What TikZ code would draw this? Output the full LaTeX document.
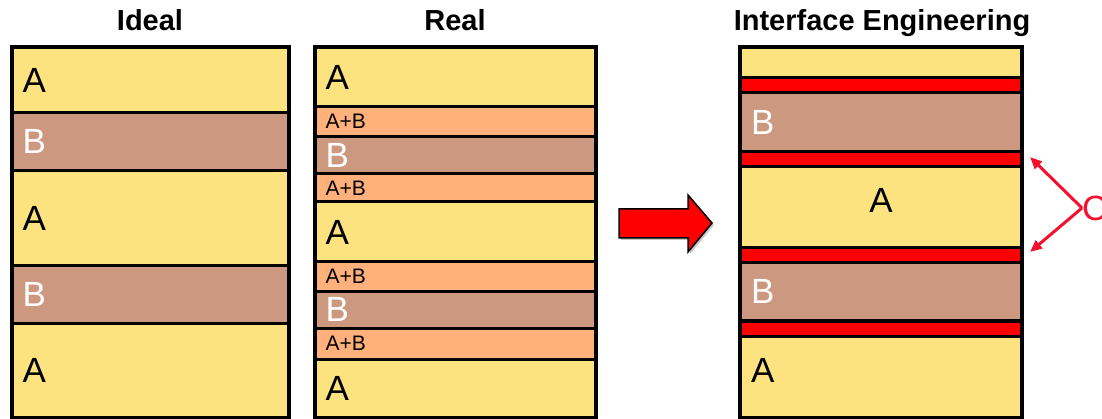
\documentclass[tikz,border=0pt]{standalone}
\usepackage{fontspec}
\setmainfont{Liberation Sans}
\usepackage{tikz}
\usetikzlibrary{positioning,arrows.meta}
\definecolor{layA}{HTML}{FDE380}
\definecolor{layB}{HTML}{CC9980}
\definecolor{layAB}{HTML}{FFB07B}
\definecolor{layC}{HTML}{FF0000}
\definecolor{pointer}{HTML}{F5102E}

\begin{document}
\begin{tikzpicture}[x=1pt,y=-1pt,
  layer/.style={draw=black,line width=3pt,anchor=north west,outer sep=0pt,inner xsep=11pt,inner ysep=0pt,align=left,font=\fontsize{35}{40}\selectfont},
  ideal/.style={layer,minimum width=277pt,text width=255pt},
  real/.style={layer,minimum width=281pt,text width=259pt},
  eng/.style={layer,minimum width=282pt,text width=260pt},
  aLay/.style={fill=layA},
  bLay/.style={fill=layB,text=white},
  abLay/.style={fill=layAB,font=\fontsize{21}{24}\selectfont},
  cLay/.style={fill=layC},
  frame/.style={draw=black,line width=4pt},
  title/.style={anchor=base,font=\bfseries\fontsize{29}{34}\selectfont}]
\useasboundingbox (0,0) rectangle (1102,419);

\node[title] (tideal) at (150,31) {Ideal};
\node[title] (treal) at (455,31) {Real};
\node[title] (teng) at (882,31) {Interface Engineering};

% ideal stack
\node[ideal,aLay,minimum height=65.5pt] (i1) at (11.5,47.5) {A};
\node[ideal,bLay,minimum height=57.5pt,below=0pt of i1] (i2) {B};
\node[ideal,aLay,minimum height=95pt,below=0pt of i2] (i3) {A};
\node[ideal,bLay,minimum height=58pt,below=0pt of i3] (i4) {B};
\node[ideal,aLay,minimum height=94pt,below=0pt of i4] (i5) {A};
\path[frame] (i1.north west) rectangle (i5.south east);

% real stack, mixed layers in between
\node[real,aLay,minimum height=59pt] (r1) at (314.5,47.5) {A};
\node[real,abLay,minimum height=30pt,below=0pt of r1] (r2) {A+B};
\node[real,bLay,minimum height=37.5pt,below=0pt of r2] (r3) {B};
\node[real,abLay,minimum height=28pt,below=0pt of r3] (r4) {A+B};
\node[real,aLay,minimum height=60pt,below=0pt of r4] (r5) {A};
\node[real,abLay,minimum height=29.5pt,below=0pt of r5] (r6) {A+B};
\node[real,bLay,minimum height=36.5pt,below=0pt of r6] (r7) {B};
\node[real,abLay,minimum height=31pt,below=0pt of r7] (r8) {A+B};
\node[real,aLay,minimum height=58.5pt,below=0pt of r8] (r9) {A};
\path[frame] (r1.north west) rectangle (r9.south east);

% arrow between
\fill[gray!45] (621,211) -- (690,211) -- (690,197) -- (714,225) -- (690,254) -- (690,240) -- (621,240) -- cycle;
\draw[fill=layC,line width=1.5pt] (619,209) -- (688,209) -- (688,195) -- (712,223) -- (688,252) -- (688,238) -- (619,238) -- cycle;

% engineered stack with C interlayers
\node[eng,aLay,minimum height=30.5pt] (e1) at (740,47.5) {};
\node[eng,cLay,minimum height=14.5pt,below=0pt of e1] (e2) {};
\node[eng,bLay,minimum height=59pt,below=0pt of e2] (e3) {B};
\node[eng,cLay,minimum height=15pt,below=0pt of e3] (e4) {};
\node[eng,aLay,minimum height=81pt,align=center,text depth=14pt,below=0pt of e4] (e5) {A};
\node[eng,cLay,minimum height=15pt,below=0pt of e5] (e6) {};
\node[eng,bLay,minimum height=58.5pt,below=0pt of e6] (e7) {B};
\node[eng,cLay,minimum height=15.5pt,below=0pt of e7] (e8) {};
\node[eng,aLay,minimum height=81pt,text depth=14pt,below=0pt of e8] (e9) {A};
\path[frame] (e1.north west) rectangle (e9.south east);

% bracket pointing at the two interlayers
\coordinate (cv) at (1082,208);
\coordinate (ct) at (1030,157);
\coordinate (cb) at (1030,252);
\draw[pointer,line width=3pt,-{Triangle[length=12pt,width=10pt]}] (cv) -- (ct);
\draw[pointer,line width=3pt,-{Triangle[length=12pt,width=10pt]}] (cv) -- (cb);
\node[right=0pt of cv,inner sep=0pt,text=pointer,font=\fontsize{35}{40}\selectfont] (clab) {C};
\end{tikzpicture}
\end{document}
